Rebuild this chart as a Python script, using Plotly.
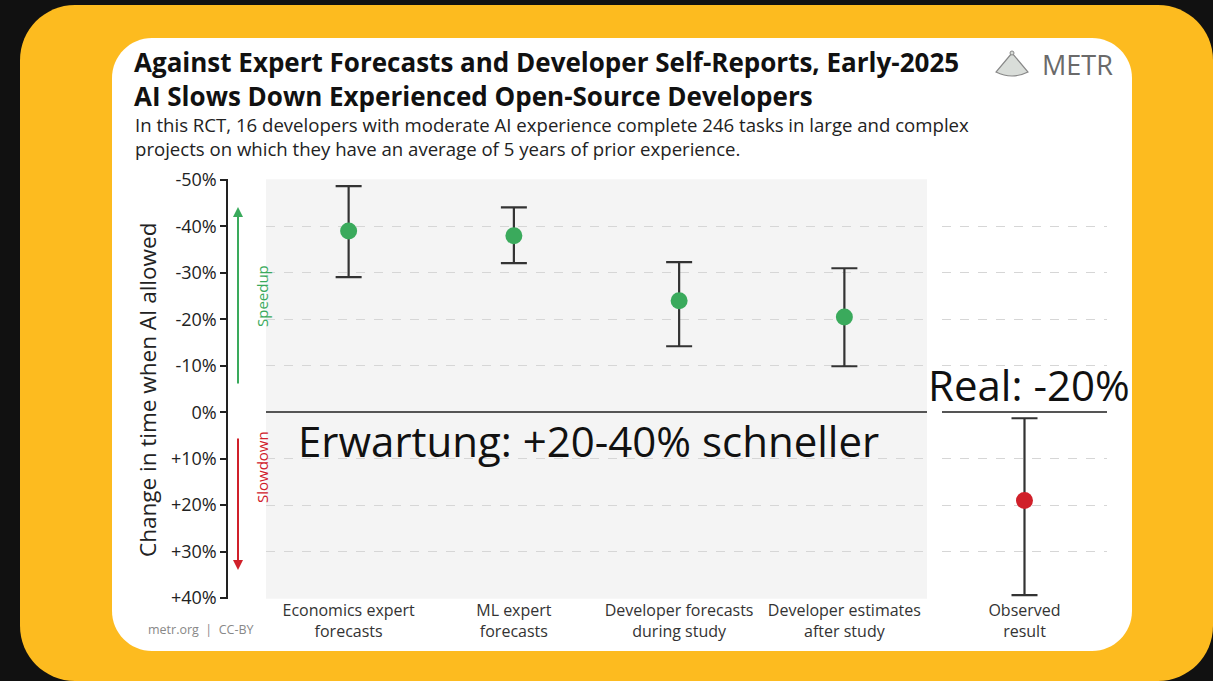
import plotly.graph_objects as go

W, H = 1213, 681

# data (change in completion time, %; negative = speedup)
forecast_cats = ["Economics expert<br>forecasts", "ML expert<br>forecasts",
                 "Developer forecasts<br>during study", "Developer estimates<br>after study"]
forecast_mid = [-39, -38, -24, -20.5]
forecast_lo = [-48.7, -44.1, -32.3, -31.0]
forecast_hi = [-29.1, -32.1, -14.2, -9.9]

observed_cat = ["Observed<br>result"]
observed_mid = [19]
observed_lo = [1.3]
observed_hi = [39.4]

ytick_vals = [-50, -40, -30, -20, -10, 0, 10, 20, 30, 40]
ytick_text = ["-50%", "-40%", "-30%", "-20%", "-10%", "0%", "+10%", "+20%", "+30%", "+40%"]

GREEN = "#3aaa5c"
RED = "#d0202a"
INK = "#222222"
FONT = "Open Sans"


def px(x):
    return x / W


def py(y):
    return 1 - y / H


def rounded(x0, y0, x1, y1, r):
    k = 0.5523 * r
    pts = [
        ("M", [(x0 + r, y0)]),
        ("L", [(x1 - r, y0)]),
        ("C", [(x1 - r + k, y0), (x1, y0 + r - k), (x1, y0 + r)]),
        ("L", [(x1, y1 - r)]),
        ("C", [(x1, y1 - r + k), (x1 - r + k, y1), (x1 - r, y1)]),
        ("L", [(x0 + r, y1)]),
        ("C", [(x0 + r - k, y1), (x0, y1 - r + k), (x0, y1 - r)]),
        ("L", [(x0, y0 + r)]),
        ("C", [(x0, y0 + r - k), (x0 + r - k, y0), (x0 + r, y0)]),
    ]
    s = ""
    for cmd, ps in pts:
        s += cmd + " " + " ".join(f"{px(a):.5f},{py(b):.5f}" for a, b in ps) + " "
    return s + "Z"


def err(mid, lo, hi):
    return dict(type="data", symmetric=False,
                array=[h - m for m, h in zip(mid, hi)],
                arrayminus=[m - l for m, l in zip(mid, lo)],
                color="#333333", thickness=2.2, width=13)


fig = go.Figure()
fig.add_trace(go.Scatter(
    x=forecast_cats, y=forecast_mid, mode="markers",
    marker=dict(size=17, color=GREEN),
    error_y=err(forecast_mid, forecast_lo, forecast_hi),
    xaxis="x", yaxis="y", showlegend=False,
))
fig.add_trace(go.Scatter(
    x=observed_cat, y=observed_mid, mode="markers",
    marker=dict(size=17, color=RED),
    error_y=err(observed_mid, observed_lo, observed_hi),
    xaxis="x2", yaxis="y2", showlegend=False,
))

yax = dict(range=[40.15, -50.15], tickvals=ytick_vals, showgrid=True,
           gridcolor="#d6d6d6", griddash="dash", gridwidth=1,
           zeroline=True, zerolinecolor="#555555", zerolinewidth=1.6,
           domain=[py(598.7), py(179.3)])

shapes = [
    dict(type="path", path=rounded(20, 5, 1213, 681, 55), xref="paper", yref="paper",
         fillcolor="#fdbb1f", line=dict(width=0), layer="below"),
    dict(type="path", path=rounded(112, 38, 1132, 651, 40), xref="paper", yref="paper",
         fillcolor="white", line=dict(width=0), layer="below"),
    dict(type="rect", xref="x domain", yref="y domain", x0=0, x1=1, y0=0, y1=1,
         fillcolor="#f4f4f4", line=dict(width=0), layer="below"),
    # METR logo glyph
    dict(type="path", xref="paper", yref="paper",
         path=f"M {px(1012):.5f},{py(53):.5f} L {px(996):.5f},{py(72):.5f} "
              f"Q {px(1012):.5f},{py(80):.5f} {px(1028):.5f},{py(72):.5f} Z",
         fillcolor="#d9ddd9", line=dict(color="#888888", width=1.2)),
    dict(type="circle", xref="paper", yref="paper",
         x0=px(1010), x1=px(1014), y0=py(55), y1=py(51),
         fillcolor="#d9ddd9", line=dict(color="#888888", width=1)),
]

ann = [
    dict(x=px(132), y=py(78.5), xanchor="left", yanchor="middle", align="left",
         text="<b>Against Expert Forecasts and Developer Self-Reports, Early-2025<br>"
              "AI Slows Down Experienced Open-Source Developers</b>",
         font=dict(size=26, color="#111111")),
    dict(x=px(133), y=py(136.5), xanchor="left", yanchor="middle", align="left",
         text="In this RCT, 16 developers with moderate AI experience complete 246 tasks in large and complex<br>"
              "projects on which they have an average of 5 years of prior experience.",
         font=dict(size=18.6, color="#222222")),
    dict(x=px(1040), y=py(65), xanchor="left", yanchor="middle",
         text="METR", font=dict(size=27, color="#6a6a6a")),
    dict(x=px(147), y=py(390), textangle=-90, xanchor="center", yanchor="middle",
         text="Change in time when AI allowed", font=dict(size=22.5, color=INK)),
    dict(x=px(238), y=py(207), ax=0, ay=178, xref="paper", yref="paper", text="",
         showarrow=True, arrowhead=2, arrowsize=1, arrowwidth=2, arrowcolor=GREEN),
    dict(x=px(238), y=py(570), ax=0, ay=-133, xref="paper", yref="paper", text="",
         showarrow=True, arrowhead=2, arrowsize=1, arrowwidth=2, arrowcolor=RED),
    dict(x=px(250), y=py(296), textangle=-90, text="Speedup",
         font=dict(size=15, color=GREEN)),
    dict(x=px(250), y=py(505), textangle=-90, text="Slowdown",
         font=dict(size=15, color=RED)),
    dict(x=px(146), y=py(629), xanchor="left", yanchor="middle",
         text="metr.org  |  CC-BY", font=dict(size=12.5, color="#888888")),
    dict(x=px(588), y=py(440), xanchor="center", yanchor="middle",
         text="Erwartung: +20-40% schneller", font=dict(size=42, color="#111111")),
    dict(x=px(1029), y=py(385), xanchor="center", yanchor="middle",
         text="Real: -20%", font=dict(size=42, color="#111111")),
]
for a in ann:
    a.setdefault("xref", "paper")
    a.setdefault("yref", "paper")
    a.setdefault("showarrow", False)

fig.update_layout(
    width=W, height=H,
    margin=dict(l=0, r=0, t=0, b=0, pad=0, autoexpand=False),
    paper_bgcolor="#111111", plot_bgcolor="white",
    font=dict(family=FONT, color=INK, size=14),
    xaxis=dict(domain=[px(266), px(927)], range=[-0.5, 3.5], showgrid=False,
               showline=False, ticks="", tickfont=dict(size=16, color="#333333"),
               anchor="y", automargin=False),
    xaxis2=dict(domain=[px(942), px(1107)], range=[-0.5, 0.5], showgrid=False,
                showline=False, ticks="", tickfont=dict(size=16, color="#333333"),
                anchor="y2", automargin=False),
    yaxis=dict(**yax, anchor="free", position=px(227), ticktext=ytick_text,
               showline=True, linecolor=INK, linewidth=1.5, ticks="outside",
               ticklen=6, tickcolor=INK, tickwidth=1.5, automargin=False,
               tickfont=dict(size=18, color=INK)),
    yaxis2=dict(**yax, anchor="x2", showticklabels=False, showline=False,
                automargin=False),
    shapes=shapes,
    annotations=ann,
)

fig.write_html("out.html", config={"displayModeBar": False},
               post_script="document.body.style.margin='0px';document.body.style.overflow='hidden';")
